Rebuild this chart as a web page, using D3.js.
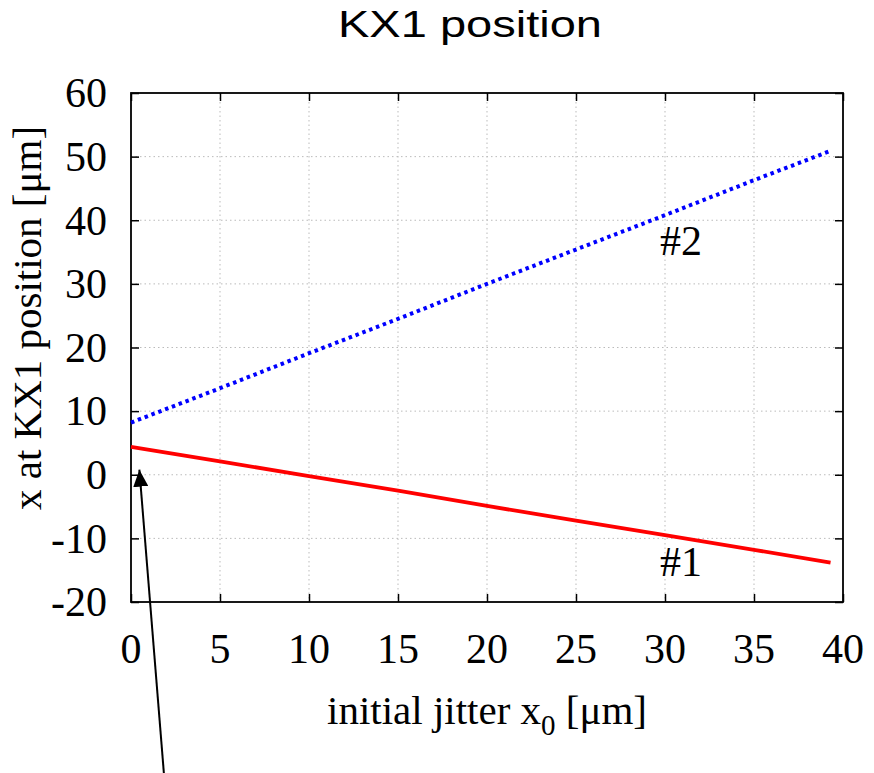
<!DOCTYPE html>
<html>
<head>
<meta charset="utf-8">
<script src="https://cdn.jsdelivr.net/npm/d3@7"></script>
<style>
  body { margin: 0; background: #fff; }
  svg { display: block; }
  .tick-label { font-family: "Liberation Serif", "DejaVu Serif", serif; font-size: 42px; fill: #000; }
  .axis-label { font-family: "Liberation Serif", "DejaVu Serif", serif; font-size: 41px; fill: #000; }
  .title { font-family: "Liberation Sans", Arial, sans-serif; font-size: 36px; fill: #000; }
</style>
</head>
<body>
<div id="chart"></div>
<script>
(function(d3) {
  'use strict';

  // values
  var jitter = [0, 5, 10, 15, 20, 25, 30, 35, 39.3];
  var beam1 = [4.4, 2.1, -0.2, -2.5, -4.9, -7.2, -9.5, -11.8, -13.8];
  var beam2 = [8.2, 13.6, 19.1, 24.5, 30.0, 35.4, 40.8, 46.3, 50.9];
  var xTicks = [0, 5, 10, 15, 20, 25, 30, 35, 40];
  var yTicks = [-20, -10, 0, 10, 20, 30, 40, 50, 60];
  var arrowFrom = [1.85, -47];
  var arrowTo = [0.47, 0.8];

  var width = 874;
  var height = 773;
  var margin = {left: 131, right: 31, top: 93, bottom: 171};
  var w = width - margin.left - margin.right;
  var h = height - margin.top - margin.bottom;

  var x = d3.scaleLinear().domain([0, 40]).range([0, w]);
  var y = d3.scaleLinear().domain([-20, 60]).range([h, 0]);

  var svg = d3.select("#chart")
    .append("svg")
    .attr("width", width)
    .attr("height", height);

  svg.append("defs").append("marker")
    .attr("id", "head")
    .attr("viewBox", "0 0 17 15")
    .attr("refX", 17)
    .attr("refY", 7.5)
    .attr("markerWidth", 17)
    .attr("markerHeight", 15)
    .attr("markerUnits", "userSpaceOnUse")
    .attr("orient", "auto")
    .append("path")
    .attr("d", "M0,0L17,7.5L0,15z")
    .attr("fill", "#000");

  var g = svg.append("g")
    .attr("transform", "translate(" + margin.left + "," + margin.top + ")");

  // grid
  g.append("g")
    .selectAll("line")
    .data(xTicks.slice(1, -1))
    .enter().append("line")
      .attr("x1", function(d) { return x(d); })
      .attr("x2", function(d) { return x(d); })
      .attr("y1", 0)
      .attr("y2", h)
      .attr("stroke", "#bbb")
      .attr("stroke-width", 1)
      .attr("stroke-dasharray", "1.5,3");

  g.append("g")
    .selectAll("line")
    .data(yTicks.slice(1, -1))
    .enter().append("line")
      .attr("x1", 0)
      .attr("x2", w)
      .attr("y1", function(d) { return y(d); })
      .attr("y2", function(d) { return y(d); })
      .attr("stroke", "#bbb")
      .attr("stroke-width", 1)
      .attr("stroke-dasharray", "1.5,3");

  // axes, ticks pointing inward on all four sides
  var tickLen = 8;
  g.append("g")
    .attr("transform", "translate(0," + h + ")")
    .call(d3.axisBottom(x).tickValues(xTicks).tickSize(-tickLen).tickFormat(""));
  g.append("g")
    .call(d3.axisTop(x).tickValues(xTicks).tickSize(-tickLen).tickFormat(""));
  g.append("g")
    .call(d3.axisLeft(y).tickValues(yTicks).tickSize(-tickLen).tickFormat(""));
  g.append("g")
    .attr("transform", "translate(" + w + ",0)")
    .call(d3.axisRight(y).tickValues(yTicks).tickSize(-tickLen).tickFormat(""));
  g.selectAll(".domain").remove();
  g.selectAll(".tick line").attr("stroke", "#000").attr("stroke-width", 1.5);

  g.append("rect")
    .attr("width", w)
    .attr("height", h)
    .attr("fill", "none")
    .attr("stroke", "#000")
    .attr("stroke-width", 1.8);

  // tick labels
  g.selectAll(".xlab")
    .data(xTicks)
    .enter().append("text")
      .attr("class", "tick-label")
      .attr("x", function(d) { return x(d); })
      .attr("y", h + 61)
      .attr("text-anchor", "middle")
      .text(function(d) { return d; });

  g.selectAll(".ylab")
    .data(yTicks)
    .enter().append("text")
      .attr("class", "tick-label")
      .attr("x", -24)
      .attr("y", function(d) { return y(d); })
      .attr("dy", "0.34em")
      .attr("text-anchor", "end")
      .text(function(d) { return d; });

  // lines
  var line = d3.line()
    .x(function(d, i) { return x(jitter[i]); })
    .y(function(d) { return y(d); });

  g.append("path")
    .attr("d", line(beam1))
    .attr("fill", "none")
    .attr("stroke", "#ff0000")
    .attr("stroke-width", 3.8);

  g.append("path")
    .attr("d", line(beam2))
    .attr("fill", "none")
    .attr("stroke", "#0000ff")
    .attr("stroke-width", 4)
    .attr("stroke-dasharray", "3.5,3.8");

  g.append("text")
    .attr("class", "tick-label")
    .attr("x", x(30.9))
    .attr("y", y(34.5))
    .attr("text-anchor", "middle")
    .text("#2");

  g.append("text")
    .attr("class", "tick-label")
    .attr("x", x(30.9))
    .attr("y", y(-15.9))
    .attr("text-anchor", "middle")
    .text("#1");

  // annotation arrow
  g.append("line")
    .attr("x1", x(arrowFrom[0]))
    .attr("y1", y(arrowFrom[1]))
    .attr("x2", x(arrowTo[0]))
    .attr("y2", y(arrowTo[1]))
    .attr("stroke", "#000")
    .attr("stroke-width", 2)
    .attr("marker-end", "url(#head)");

  // axis titles
  var xl = svg.append("text")
    .attr("class", "axis-label")
    .attr("x", margin.left + w / 2)
    .attr("y", 724)
    .attr("text-anchor", "middle");
  xl.append("tspan").text("initial jitter x");
  xl.append("tspan").attr("dy", 11).attr("font-size", "29px").text("0");
  xl.append("tspan").attr("dy", -11).text(" [\u03bcm]");

  svg.append("text")
    .attr("class", "axis-label")
    .attr("font-size", "37px")
    .attr("transform", "translate(41,318) rotate(-90)")
    .attr("text-anchor", "middle")
    .text("x at KX1 position [\u03bcm]");

  svg.append("text")
    .attr("class", "title")
    .attr("x", 470)
    .attr("y", 37)
    .attr("text-anchor", "middle")
    .attr("textLength", 264)
    .attr("lengthAdjust", "spacingAndGlyphs")
    .text("KX1 position");
})(window.d3);
</script>
</body>
</html>
